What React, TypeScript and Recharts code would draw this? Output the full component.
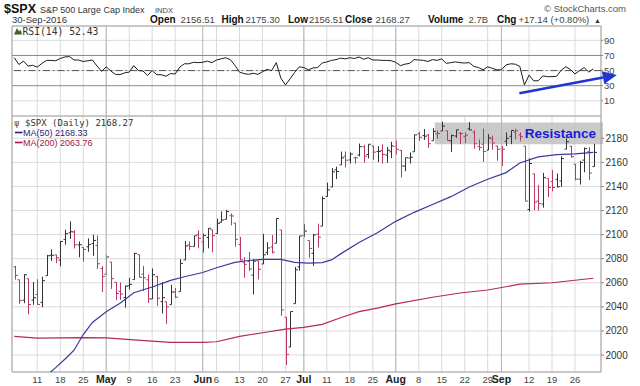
import React from 'react'
import {
  Bar,
  CartesianGrid,
  ComposedChart,
  Line,
  ReferenceArea,
  ReferenceLine,
  XAxis,
  YAxis,
} from 'recharts'

// Trading days, 4 Apr - 30 Sep 2016
const months = ['Apr', 'May', 'Jun', 'Jul', 'Aug', 'Sep']
const tradingDays = [
  [4, 5, 6, 7, 8, 11, 12, 13, 14, 15, 18, 19, 20, 21, 22, 25, 26, 27, 28, 29],
  [2, 3, 4, 5, 6, 9, 10, 11, 12, 13, 16, 17, 18, 19, 20, 23, 24, 25, 26, 27, 31],
  [1, 2, 3, 6, 7, 8, 9, 10, 13, 14, 15, 16, 17, 20, 21, 22, 23, 24, 27, 28, 29, 30],
  [1, 5, 6, 7, 8, 11, 12, 13, 14, 15, 18, 19, 20, 21, 22, 25, 26, 27, 28, 29],
  [1, 2, 3, 4, 5, 8, 9, 10, 11, 12, 15, 16, 17, 18, 19, 22, 23, 24, 25, 26, 29, 30, 31],
  [1, 2, 6, 7, 8, 9, 12, 13, 14, 15, 16, 19, 20, 21, 22, 23, 26, 27, 28, 29, 30],
]

const open = [
  2073.19, 2062.5, 2045.56, 2063.37, 2045.54, 2050.23, 2043.72, 2065.92, 2082.89, 2083.1, 2078.83, 2096.05, 2101.52, 2102.09, 2091.49, 2089.37, 2089.84, 2092.57, 2090.93, 2071.82,
  2067.17, 2077.18, 2060.3, 2052.95, 2047.77, 2057.55, 2062.63, 2083.29, 2067.17, 2062.5, 2046.53, 2065.04, 2044.38, 2044.21, 2041.88, 2052.23, 2052.65, 2078.93, 2091.44, 2090.06, 2100.13,
  2093.94, 2097.71, 2104.07, 2100.83, 2110.18, 2112.71, 2115.65, 2109.57, 2091.75, 2076.65, 2077.6, 2066.36, 2078.2, 2075.58, 2085.19, 2089.75, 2092.8, 2103.81, 2031.45, 2006.67, 2042.69, 2073.17,
  2099.34, 2095.05, 2084.43, 2100.42, 2106.97, 2131.72, 2139.5, 2153.81, 2157.88, 2165.13, 2162.04, 2163.79, 2166.1, 2172.91, 2166.47, 2173.71, 2168.97, 2169.81, 2166.05, 2168.83,
  2173.15, 2169.94, 2156.81, 2163.51, 2168.79, 2183.76, 2182.24, 2182.81, 2177.97, 2183.74, 2186.08, 2186.24, 2177.84, 2181.9, 2184.24, 2181.58, 2187.81, 2185.09, 2173.29, 2175.1, 2170.19, 2179.45, 2173.56,
  2171.33, 2177.49, 2181.61, 2185.17, 2182.76, 2173.47, 2120.86, 2150.47, 2127.86, 2125.36, 2146.48, 2143.99, 2145.94, 2144.58, 2170.94, 2173.29, 2158.54, 2146.04, 2161.85, 2168.9, 2156.51,
]
const high = [
  2074.02, 2062.5, 2067.0, 2063.37, 2060.63, 2062.93, 2065.05, 2083.18, 2087.84, 2083.22, 2094.66, 2104.05, 2111.05, 2103.78, 2094.32, 2089.37, 2096.87, 2099.89, 2099.3, 2073.85,
  2083.42, 2077.18, 2060.3, 2060.23, 2057.72, 2064.15, 2084.87, 2083.29, 2073.99, 2066.79, 2071.88, 2065.69, 2060.61, 2044.21, 2058.35, 2055.58, 2079.67, 2094.73, 2094.3, 2099.06, 2103.48,
  2100.97, 2105.26, 2104.07, 2113.36, 2119.22, 2120.55, 2117.64, 2109.57, 2098.12, 2081.3, 2085.65, 2079.62, 2078.2, 2100.66, 2093.66, 2099.71, 2113.32, 2103.81, 2031.45, 2036.09, 2073.13, 2098.94,
  2108.71, 2095.05, 2100.72, 2109.08, 2131.71, 2143.16, 2155.4, 2156.45, 2168.99, 2169.05, 2168.35, 2164.63, 2175.63, 2174.56, 2175.11, 2173.71, 2173.54, 2174.98, 2172.85, 2177.09,
  2178.29, 2170.2, 2163.79, 2168.19, 2182.87, 2185.44, 2187.66, 2183.41, 2188.45, 2186.28, 2193.81, 2186.24, 2183.08, 2187.03, 2185.0, 2184.94, 2193.42, 2186.66, 2179.0, 2187.94, 2183.48, 2182.27, 2173.79,
  2173.56, 2184.87, 2186.57, 2187.87, 2184.94, 2173.47, 2163.3, 2150.47, 2141.33, 2151.31, 2146.48, 2153.61, 2150.8, 2165.11, 2179.99, 2173.75, 2158.54, 2161.13, 2172.4, 2172.67, 2175.3,
]
const low = [
  2062.57, 2042.56, 2043.09, 2033.8, 2041.69, 2041.88, 2039.74, 2065.92, 2078.13, 2076.31, 2073.65, 2091.68, 2096.32, 2088.52, 2081.2, 2077.52, 2085.8, 2082.31, 2071.62, 2052.28,
  2066.11, 2054.89, 2045.55, 2045.77, 2039.45, 2054.31, 2062.63, 2064.46, 2053.13, 2043.13, 2046.53, 2040.82, 2034.49, 2025.91, 2041.88, 2047.26, 2052.65, 2078.93, 2087.08, 2090.06, 2088.66,
  2085.1, 2088.59, 2085.36, 2100.83, 2110.18, 2112.71, 2107.73, 2089.96, 2078.46, 2064.1, 2069.8, 2050.37, 2062.84, 2075.58, 2083.02, 2084.36, 2092.8, 2032.57, 1991.68, 2006.67, 2042.69, 2070.0,
  2097.9, 2080.86, 2074.02, 2089.39, 2106.97, 2131.72, 2139.5, 2146.21, 2157.88, 2155.79, 2159.07, 2159.01, 2164.89, 2159.75, 2163.24, 2161.95, 2160.18, 2159.07, 2159.74, 2163.49,
  2166.21, 2147.58, 2152.56, 2159.07, 2168.79, 2177.85, 2178.61, 2172.0, 2177.97, 2179.42, 2186.08, 2178.14, 2168.5, 2180.46, 2175.13, 2175.96, 2186.8, 2171.25, 2169.74, 2160.39, 2170.19, 2170.41, 2161.35,
  2157.09, 2173.59, 2175.1, 2179.07, 2177.49, 2127.81, 2119.12, 2120.27, 2119.9, 2122.36, 2131.2, 2135.91, 2139.17, 2139.57, 2170.94, 2163.97, 2145.04, 2141.55, 2151.79, 2145.2, 2156.51,
]
const close = [
  2066.13, 2045.17, 2066.66, 2041.91, 2047.6, 2041.99, 2061.72, 2082.42, 2082.78, 2080.73, 2094.34, 2100.8, 2102.4, 2091.48, 2091.58, 2087.79, 2091.7, 2095.15, 2075.81, 2065.3,
  2081.43, 2063.37, 2051.12, 2050.63, 2057.14, 2058.69, 2084.39, 2064.46, 2064.11, 2046.61, 2066.66, 2047.21, 2047.63, 2040.04, 2052.32, 2048.04, 2076.06, 2090.54, 2090.1, 2099.06, 2096.95,
  2099.33, 2105.26, 2099.13, 2109.41, 2112.13, 2119.12, 2115.48, 2096.07, 2079.06, 2075.32, 2071.5, 2077.99, 2071.22, 2083.25, 2088.9, 2085.45, 2113.32, 2037.41, 2000.54, 2036.09, 2070.77, 2098.86,
  2102.95, 2088.55, 2099.73, 2097.9, 2129.9, 2137.16, 2152.14, 2152.43, 2163.75, 2161.74, 2166.89, 2163.78, 2173.02, 2165.17, 2175.03, 2168.48, 2169.18, 2166.58, 2170.06, 2173.6,
  2170.84, 2157.03, 2163.79, 2164.25, 2182.87, 2180.89, 2181.74, 2175.49, 2185.79, 2184.05, 2190.15, 2178.15, 2182.22, 2187.02, 2183.87, 2182.64, 2186.9, 2175.44, 2172.47, 2169.04, 2180.38, 2176.12, 2170.95,
  2170.86, 2179.98, 2186.48, 2186.16, 2181.3, 2127.81, 2159.04, 2127.02, 2125.77, 2147.26, 2139.16, 2139.12, 2139.76, 2163.12, 2177.18, 2164.69, 2146.1, 2159.93, 2171.37, 2151.13, 2168.27,
]

const rsi = [
  67, 58, 62.5, 56, 57, 54.5, 59.5, 63.5, 63.5, 63, 66, 68, 68.5, 64, 64, 62, 63, 64, 56, 49,
  55, 49.5, 45, 44.7, 47, 48, 56.5, 50, 49.5, 43.5, 50, 44.5, 44.5, 42.5, 46, 45.5, 54.5, 59, 59, 61, 60.5,
  61, 62.5, 60.5, 64, 65.5, 67, 64.5, 57, 48, 46, 45, 46.5, 45, 48.5, 51.5, 50, 60.5, 40, 31, 39, 47.5, 55,
  54, 51, 53.5, 54, 60, 61.5, 63.5, 64.5, 66.5, 65.5, 67, 66, 68, 65, 67, 64, 64, 63.5, 63.5, 63,
  61, 56.5, 58.5, 59.5, 64.5, 64, 63.5, 62, 64.5, 63.5, 65.5, 59.5, 60.5, 61.5, 60.5, 60, 60.5, 55.5, 54, 51, 55, 53, 51,
  51, 57.5, 59, 58.5, 55.5, 31, 44, 36.5, 36.5, 43, 42, 42, 42.5, 50.5, 55, 51.5, 45.5, 50, 54, 48, 52.43,
]

// moving averages read at sample dates
const ma50Dates = ['Apr 13', 'Apr 15', 'Apr 19', 'Apr 21', 'Apr 25', 'Apr 27', 'May 2', 'May 5', 'May 10', 'May 16', 'May 20', 'May 25', 'Jun 1', 'Jun 6', 'Jun 10', 'Jun 15', 'Jun 20', 'Jun 24', 'Jun 29', 'Jul 5', 'Jul 8', 'Jul 12', 'Jul 14', 'Jul 20', 'Jul 26', 'Aug 1', 'Aug 5', 'Aug 11', 'Aug 17', 'Aug 23', 'Aug 29', 'Sep 2', 'Sep 8', 'Sep 14', 'Sep 20', 'Sep 26', 'Sep 30']
const ma50Values = [1983, 1989.5, 1996.5, 2004, 2017, 2027, 2036, 2043, 2051.7, 2056.5, 2062, 2065, 2068.5, 2072.5, 2077, 2078.5, 2079.5, 2079.5, 2077, 2076.4, 2076.8, 2079, 2084, 2093.5, 2101.5, 2111, 2118.5, 2125, 2131.5, 2139.5, 2146, 2151.5, 2159.5, 2164.5, 2166.5, 2167, 2168.33]
const ma200Dates = ['Apr 4', 'Apr 11', 'Apr 25', 'May 2', 'May 10', 'May 20', 'Jun 1', 'Jun 6', 'Jun 13', 'Jun 20', 'Jun 27', 'Jul 1', 'Jul 8', 'Jul 14', 'Jul 20', 'Jul 26', 'Aug 1', 'Aug 11', 'Aug 19', 'Aug 29', 'Sep 8', 'Sep 19', 'Sep 30']
const ma200Values = [2015.5, 2014, 2014.5, 2014.3, 2012.5, 2010.5, 2010.5, 2011, 2015.5, 2018.5, 2021.5, 2023, 2025.5, 2031, 2036, 2039, 2042.5, 2048, 2051.5, 2054, 2058.8, 2060, 2063.76]

const tickDates = ['Apr 11', 'Apr 18', 'Apr 25', 'May 2', 'May 9', 'May 16', 'May 23', 'Jun 1', 'Jun 6', 'Jun 13', 'Jun 20', 'Jun 27', 'Jul 1', 'Jul 11', 'Jul 18', 'Jul 25', 'Aug 1', 'Aug 8', 'Aug 15', 'Aug 22', 'Aug 29', 'Sep 1', 'Sep 12', 'Sep 19', 'Sep 26']
const priceTicks = [2000, 2020, 2040, 2060, 2080, 2100, 2120, 2140, 2160, 2180]
const rsiTicks = [10, 30, 50, 70, 90]

const dates = months.flatMap((m, k) => tradingDays[k].map((d) => `${m} ${d}`))
const idx = (d: string) => dates.indexOf(d)
const isMonthStart = (i: number) => i > 0 && dates[i].slice(0, 3) !== dates[i - 1].slice(0, 3)
const monthStarts = dates.map((_, i) => i).filter(isMonthStart)
const tickIdx = tickDates.map(idx)

const data = dates.map((d, i) => {
  const k50 = ma50Dates.indexOf(d)
  const k200 = ma200Dates.indexOf(d)
  return {
    i,
    d,
    range: [low[i], high[i]],
    open: open[i],
    high: high[i],
    low: low[i],
    close: close[i],
    up: i === 0 ? close[i] >= open[i] : close[i] >= close[i - 1],
    rsi: rsi[i],
    ma50: k50 >= 0 ? ma50Values[k50] : null,
    ma200: k200 >= 0 ? ma200Values[k200] : null,
  }
})

const X_DOMAIN: [number, number] = [-0.5, 127.66]
const P_DOMAIN: [number, number] = [1985.9, 2198.5]
const R_DOMAIN: [number, number] = [-10.1, 109]
const FONT = '"Liberation Sans", Arial, sans-serif'
const MONO = '"DejaVu Sans Mono", monospace'
const GRID = '#dadada'
const MONTH_LINE = '#b6b6b6'
const BORDER = '#a4a4a4'

const OhlcBar = (props: any) => {
  const { x, y, width, height, payload } = props
  if (!payload || x == null) return null
  const top = Math.min(y, y + height)
  const bot = Math.max(y, y + height)
  const span = payload.high - payload.low || 1
  const toY = (v: number) => top + ((payload.high - v) / span) * (bot - top)
  const cx = Math.round(x + width / 2) + 0.5
  const color = payload.up ? '#333333' : '#b8386a'
  return (
    <g stroke={color} strokeWidth={1}>
      <line x1={cx} x2={cx} y1={top} y2={bot} />
      <line x1={cx - 2} x2={cx} y1={toY(payload.open)} y2={toY(payload.open)} />
      <line x1={cx} x2={cx + 2.5} y1={toY(payload.close)} y2={toY(payload.close)} />
    </g>
  )
}

const DateTick = (props: any) => {
  const { x, y, payload } = props
  const i = payload.value
  const [m, day] = dates[i].split(' ')
  const first = isMonthStart(i)
  return (
    <text
      x={x}
      y={y + 10.5}
      textAnchor="middle"
      fontFamily={FONT}
      fontSize={first ? 10.5 : 9.5}
      fontWeight={first ? 'bold' : 'normal'}
      fill={first ? '#222' : '#444'}
    >
      {first ? m : day}
    </text>
  )
}

const Arrow = (p: any) => {
  const { x1, y1, x2, y2 } = p
  const ang = Math.atan2(y2 - y1, x2 - x1)
  const len = 14
  const half = 6.5
  const bx = x2 - len * Math.cos(ang)
  const by = y2 - len * Math.sin(ang)
  const nx = -Math.sin(ang) * half
  const ny = Math.cos(ang) * half
  return (
    <g>
      <line x1={x1} y1={y1} x2={bx} y2={by} stroke="#1f35d2" strokeWidth={2.6} />
      <polygon points={`${x2},${y2} ${bx + nx},${by + ny} ${bx - nx},${by - ny}`} fill="#1f35d2" />
    </g>
  )
}

const RsiPanel = () => (
  <ComposedChart width={640} height={116} data={data} margin={{ top: 26, right: 0, bottom: 0, left: 12 }}>
    <XAxis type="number" dataKey="i" domain={X_DOMAIN} allowDataOverflow ticks={tickIdx} hide />
    <YAxis
      orientation="right"
      domain={R_DOMAIN}
      allowDataOverflow
      ticks={rsiTicks}
      width={39}
      tickSize={2}
      tickMargin={1}
      axisLine={false}
      tickLine={{ stroke: '#888' }}
      tick={{ fontSize: 9.5, fill: '#444', fontFamily: FONT }}
    />
    <CartesianGrid stroke={GRID} />
    {monthStarts.map((m) => (
      <ReferenceLine key={m} x={m} stroke={MONTH_LINE} />
    ))}
    <ReferenceLine y={70} stroke="#8a8a8a" />
    <ReferenceLine y={30} stroke="#8a8a8a" />
    <ReferenceLine y={50} stroke="#555" strokeDasharray="7 3 1.5 3" />
    <Line dataKey="rsi" stroke="#1c1c1c" strokeWidth={1} dot={false} isAnimationActive={false} />
    <ReferenceArea x1={X_DOMAIN[0]} x2={X_DOMAIN[1]} y1={R_DOMAIN[0]} y2={R_DOMAIN[1]} fill="none" stroke={BORDER} />
    <ReferenceLine
      segment={[
        { x: 109.9, y: 19.9 },
        { x: 131.1, y: 44.2 },
      ]}
      ifOverflow="visible"
      shape={Arrow}
    />
  </ComposedChart>
)

const PricePanel = () => (
  <ComposedChart width={640} height={270} data={data} margin={{ top: 0, right: 0, bottom: 0, left: 12 }}>
    <XAxis
      type="number"
      dataKey="i"
      domain={X_DOMAIN}
      allowDataOverflow
      ticks={tickIdx}
      interval={0}
      height={14}
      tickSize={0}
      tickMargin={0}
      axisLine={false}
      tickLine={false}
      tick={(p: any) => <DateTick {...p} />}
    />
    <YAxis
      orientation="right"
      domain={P_DOMAIN}
      allowDataOverflow
      ticks={priceTicks}
      width={39}
      tickSize={3}
      tickMargin={1.5}
      axisLine={false}
      tickLine={{ stroke: '#888' }}
      tick={{ fontSize: 10, fill: '#333', fontFamily: FONT }}
    />
    <CartesianGrid stroke={GRID} />
    {monthStarts.map((m) => (
      <ReferenceLine key={m} x={m} stroke={MONTH_LINE} />
    ))}
    <ReferenceArea
      x1={91.5}
      x2={128.1}
      y1={2175}
      y2={2193}
      ifOverflow="visible"
      fill="#bdbdbd"
      fillOpacity={0.8}
      stroke="none"
      label={{ value: 'Resistance', position: 'insideRight', offset: 7, fill: '#1b1bd8', fontSize: 13.5, fontWeight: 'bold', fontFamily: FONT }}
    />
    <Line dataKey="ma200" stroke="#b4285a" strokeWidth={1.2} dot={false} connectNulls isAnimationActive={false} />
    <Line dataKey="ma50" stroke="#3a3a9c" strokeWidth={1.2} dot={false} connectNulls isAnimationActive={false} />
    <Bar dataKey="range" barSize={3} shape={OhlcBar} isAnimationActive={false} />
    <ReferenceArea x1={X_DOMAIN[0]} x2={X_DOMAIN[1]} y1={P_DOMAIN[0]} y2={P_DOMAIN[1]} fill="none" stroke={BORDER} />
  </ComposedChart>
)

const Header = () => (
  <svg width={640} height={386} style={{ position: 'absolute', left: 0, top: 0, pointerEvents: 'none' }}>
    <g fontFamily={FONT}>
      <text x={4} y={12.5} fontSize={12.5} fontWeight="bold" fill="#111">$SPX</text>
      <text x={40} y={12.5} fontSize={9} fill="#333">S&amp;P 500 Large Cap Index</text>
      <text x={155} y={12.5} fontSize={7.5} fill="#444">INDX</text>
      <text x={626} y={12} fontSize={9.5} fill="#555" textAnchor="end">© StockCharts.com</text>

      <text x={12} y={23} fontSize={9.5} fill="#333">30-Sep-2016</text>
      <text x={150} y={23} fontSize={10} fontWeight="bold" fill="#111">Open</text>
      <text x={180.5} y={23} fontSize={9.5} fill="#444">2156.51</text>
      <text x={221.5} y={23} fontSize={10} fontWeight="bold" fill="#111">High</text>
      <text x={245.5} y={23} fontSize={9.5} fill="#444">2175.30</text>
      <text x={288} y={23} fontSize={10} fontWeight="bold" fill="#111">Low</text>
      <text x={309} y={23} fontSize={9.5} fill="#444">2156.51</text>
      <text x={345} y={23} fontSize={10} fontWeight="bold" fill="#111">Close</text>
      <text x={375.5} y={23} fontSize={9.5} fill="#444">2168.27</text>
      <text x={428} y={23} fontSize={10} fontWeight="bold" fill="#111">Volume</text>
      <text x={468.5} y={23} fontSize={9.5} fill="#444">2.7B</text>
      <text x={497} y={23} fontSize={10} fontWeight="bold" fill="#111">Chg</text>
      <text x={518.5} y={23} fontSize={9.5} fill="#444">+17.14 (+0.80%)</text>
      <text x={594} y={22.5} fontSize={7} fill="#333">▲</text>
    </g>

    <path d="M14 34.5 L17 28 L19 31.5 L20.5 29.5 L22 34.5 Z" fill="#3f5f2f" />
    <text x={22.5} y={34.5} fontSize={9.7} fontFamily={MONO} fill="#333">RSI(14) 52.43</text>

    <text x={14} y={126} fontSize={9} fontFamily={MONO} fill="#555">ψ</text>
    <text x={25} y={126} fontSize={9} fontFamily={MONO} fill="#333">$SPX (Daily) 2168.27</text>
    <line x1={15} x2={22.5} y1={132.5} y2={132.5} stroke="#1e1e78" strokeWidth={1.6} />
    <text x={23} y={135.5} fontSize={9} fontFamily={FONT} fill="#1e1e78">MA(50) 2168.33</text>
    <line x1={15} x2={22.5} y1={142.5} y2={142.5} stroke="#a8143c" strokeWidth={1.6} />
    <text x={23} y={145.5} fontSize={9} fontFamily={FONT} fill="#a8143c">MA(200) 2063.76</text>
  </svg>
)

const App = () => {
  return (
    <div style={{ position: 'absolute', left: 0, top: 0, width: 640, height: 386, background: '#fff' }}>
      <div style={{ position: 'absolute', left: 0, top: 0 }}>
        <RsiPanel />
      </div>
      <div style={{ position: 'absolute', left: 0, top: 116 }}>
        <PricePanel />
      </div>
      <Header />
    </div>
  )
}

export default App
